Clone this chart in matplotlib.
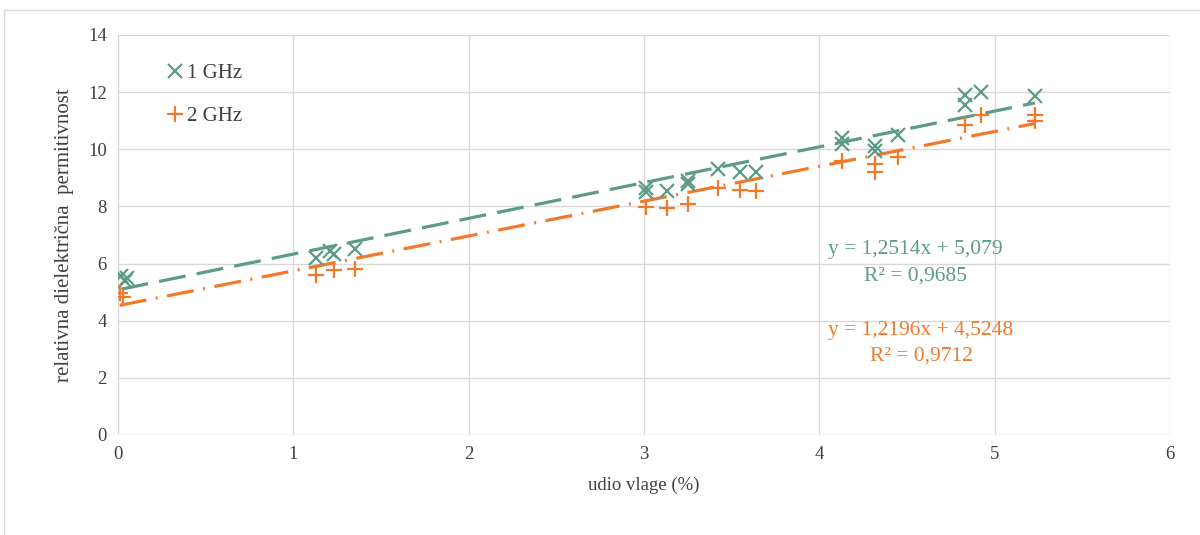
import matplotlib.pyplot as plt
import numpy as np
from matplotlib.patches import Rectangle

plt.rcParams['font.family'] = ['Liberation Serif', 'DejaVu Serif']

# udio vlage (%) i permitivnost ocitani s grafa
x_1ghz = [0.02, 0.04, 0.05, 1.13, 1.21, 1.23, 1.35, 3.01, 3.01, 3.13, 3.25, 3.25,
          3.42, 3.55, 3.64, 4.13, 4.13, 4.32, 4.32, 4.45, 4.83, 4.83, 4.92, 5.23]
y_1ghz = [5.57, 5.4, 5.5, 6.2, 6.45, 6.35, 6.5, 8.65, 8.5, 8.55, 8.9, 8.8,
          9.3, 9.2, 9.2, 10.4, 10.2, 10.1, 9.95, 10.5, 11.9, 11.55, 12.0, 11.87]

x_2ghz = [0.01, 0.03, 1.13, 1.23, 1.35, 3.01, 3.13, 3.25, 3.42, 3.55, 3.64,
          4.13, 4.32, 4.32, 4.45, 4.83, 4.92, 5.23, 5.23]
y_2ghz = [4.97, 4.83, 5.6, 5.78, 5.8, 7.98, 7.95, 8.1, 8.65, 8.58, 8.55,
          9.6, 9.5, 9.2, 9.73, 10.85, 11.2, 11.0, 11.2]

# linearni trend (Excel)
coef_1ghz = [1.2514, 5.079]
coef_2ghz = [1.2196, 4.5248]
eq_1ghz = ["y = 1,2514x + 5,079", "R² = 0,9685"]
eq_2ghz = ["y = 1,2196x + 4,5248", "R² = 0,9712"]

green = '#5E9B85'
orange = '#F2782A'

fig = plt.figure(figsize=(12, 5.35), dpi=100)
ax = fig.add_axes([0.0983, 0.187, 0.8767, 0.7476])

fig.patches.append(Rectangle((0.003, -0.01), 1.1, 0.991, transform=fig.transFigure,
                             fill=False, edgecolor='#D9D9D9', linewidth=1.0))

ax.plot(x_1ghz, y_1ghz, linestyle='none', marker='x', markersize=10,
        markeredgewidth=1.6, color=green, label='1 GHz', zorder=3)
ax.plot(x_2ghz, y_2ghz, linestyle='none', marker='+', markersize=11,
        markeredgewidth=1.6, color=orange, label='2 GHz', zorder=3)

xt = np.linspace(min(x_1ghz), max(x_1ghz), 50)
l1, = ax.plot(xt, np.polyval(coef_1ghz, xt), color=green, linewidth=2.3, zorder=2)
l1.set_dashes([8.5, 3.5])
xt2 = np.linspace(min(x_2ghz), max(x_2ghz), 50)
l2, = ax.plot(xt2, np.polyval(coef_2ghz, xt2), color=orange, linewidth=2.3, zorder=2)
l2.set_dashes([8.5, 3, 0.6, 3])

ax.set_xlim(0, 6)
ax.set_ylim(0, 14)
ax.set_xticks(range(0, 7))
ax.set_yticks(range(0, 15, 2))
ax.grid(True, color='#D9D9D9', linewidth=1.0)
ax.set_axisbelow(True)
for s in ax.spines.values():
    s.set_visible(False)
ax.tick_params(length=0, labelsize=13.5, colors='#404040', pad=8)

ax.set_xlabel('udio vlage (%)', fontsize=13.5, color='#404040', labelpad=10)
ax.set_ylabel('relativna dielektrična  permitivnost', fontsize=15, color='#404040', labelpad=10)

ax.legend(loc='upper left', bbox_to_anchor=(0.03, 0.975), frameon=False, fontsize=15,
          handlelength=0.6, handletextpad=0.3, labelspacing=1.1, labelcolor='#404040')

ax.text(4.55, 6.5, eq_1ghz[0], color=green, fontsize=15.5, ha='center', va='center')
ax.text(4.55, 5.55, eq_1ghz[1], color=green, fontsize=15.5, ha='center', va='center')
ax.text(4.58, 3.65, eq_2ghz[0], color=orange, fontsize=15.5, ha='center', va='center')
ax.text(4.58, 2.75, eq_2ghz[1], color=orange, fontsize=15.5, ha='center', va='center')

fig.savefig('out.png', dpi=100)
